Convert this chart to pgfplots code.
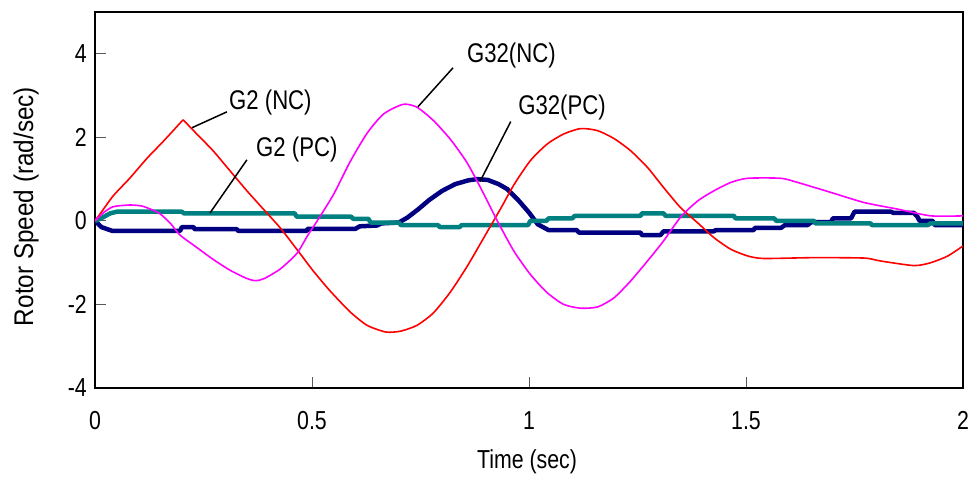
\documentclass[border=0pt]{standalone}
\usepackage{fontspec}
\setmainfont{Liberation Sans}
\newfontfamily\nf{Liberation Sans}[FakeStretch=0.82]
\newfontfamily\yf{Liberation Sans}[FakeStretch=0.9]
\usepackage{pgfplots}
\usepackage{pgfplotstable}
\pgfplotsset{compat=1.18}

\definecolor{gtwonc}{RGB}{255,0,0}
\definecolor{gthirtytwonc}{RGB}{255,0,255}
\definecolor{gthirtytwopc}{RGB}{0,0,128}
\definecolor{gtwopc}{RGB}{0,128,128}

% G2, no control: rise up to the peak at t = 0.203
\pgfplotstableread{
t v
0 0
0.012 0.17
0.042 0.6
0.08 1.02
0.12 1.5
0.157 1.9
0.203 2.42
}\gtwoncA

% G2, no control: from the peak on
\pgfplotstableread{
t v
0.203 2.42
0.242 2.0
0.272 1.68
0.311 1.2
0.35 0.72
0.388 0.28
0.427 -0.17
0.465 -0.68
0.503 -1.2
0.542 -1.68
0.588 -2.18
0.627 -2.5
0.67 -2.66
0.704 -2.64
0.742 -2.5
0.78 -2.2
0.819 -1.7
0.858 -1.08
0.896 -0.4
0.935 0.3
0.965 0.86
1.003 1.44
1.042 1.84
1.08 2.08
1.119 2.21
1.158 2.16
1.196 1.97
1.234 1.68
1.273 1.28
1.31 0.8
1.349 0.32
1.389 -0.05
1.426 -0.4
1.465 -0.68
1.504 -0.84
1.541 -0.9
1.656 -0.88
1.772 -0.89
1.81 -0.96
1.887 -1.07
1.926 -1.0
1.965 -0.84
2.0 -0.6
}\gtwonc

% G32, no control
\pgfplotstableread{
t v
0 0
0.02 0.2
0.042 0.34
0.08 0.38
0.11 0.35
0.147 0.19
0.173 -0.05
0.196 -0.34
0.235 -0.64
0.272 -0.92
0.311 -1.18
0.35 -1.38
0.37 -1.43
0.39 -1.38
0.427 -1.15
0.465 -0.78
0.49 -0.35
0.512 0
0.55 0.64
0.588 1.42
0.627 2.1
0.665 2.56
0.71 2.79
0.742 2.72
0.78 2.4
0.819 1.95
0.858 1.38
0.896 0.64
0.927 0
0.965 -0.72
1.003 -1.28
1.042 -1.72
1.08 -2.0
1.119 -2.09
1.158 -2.06
1.196 -1.84
1.234 -1.44
1.273 -0.96
1.31 -0.48
1.35 0.1
1.389 0.48
1.426 0.72
1.465 0.92
1.504 1.02
1.58 1.02
1.619 0.92
1.696 0.68
1.772 0.44
1.85 0.28
1.926 0.12
2.0 0.12
}\gthirtytwonc

% G32, proposed control
\pgfplotstableread{
t v
0 0
0.015 -0.15
0.04 -0.24
0.196 -0.24
0.2 -0.15
0.227 -0.15
0.23 -0.2
0.327 -0.2
0.33 -0.24
0.488 -0.24
0.49 -0.19
0.6 -0.19
0.61 -0.13
0.65 -0.11
0.66 -0.06
0.70 -0.04
0.72 0.08
0.745 0.28
0.77 0.5
0.80 0.72
0.83 0.88
0.86 0.97
0.88 1.0
0.905 0.98
0.93 0.88
0.95 0.76
0.975 0.5
1.0 0.2
1.02 -0.08
1.045 -0.22
1.11 -0.22
1.115 -0.28
1.257 -0.28
1.26 -0.34
1.303 -0.34
1.31 -0.25
1.426 -0.25
1.43 -0.22
1.518 -0.22
1.52 -0.17
1.58 -0.17
1.59 -0.1
1.642 -0.1
1.65 -0.03
1.696 -0.03
1.70 0.06
1.742 0.06
1.75 0.22
1.834 0.22
1.84 0.19
1.887 0.19
1.895 0.1
1.9 0.0
1.93 0.0
1.935 -0.1
2.0 -0.1
}\gthirtytwopc

% G2, proposed control
\pgfplotstableread{
t v
0 0
0.012 0.05
0.035 0.18
0.05 0.22
0.2 0.22
0.205 0.18
0.46 0.18
0.465 0.1
0.59 0.1
0.595 0.05
0.63 0.05
0.635 -0.04
0.70 -0.04
0.705 -0.1
0.79 -0.1
0.795 -0.15
0.84 -0.15
0.845 -0.1
0.998 -0.1
1.003 0
1.04 0
1.045 0.06
1.10 0.06
1.105 0.12
1.257 0.12
1.26 0.18
1.31 0.18
1.315 0.12
1.472 0.12
1.476 0.06
1.565 0.06
1.57 0
1.657 0
1.66 -0.06
1.787 -0.06
1.79 -0.1
1.919 -0.1
1.925 -0.06
2.0 -0.06
}\gtwopc

\begin{document}
\begin{tikzpicture}
\begin{axis}[
  name=ax, at={(0,0)}, anchor=south west,
  scale only axis, width=868pt, height=376pt,
  xmin=0, xmax=2, ymin=-4, ymax=5,
  axis line style={line width=1.5pt},
  xtick={0,0.5,1,1.5,2}, xticklabels={0,0.5,1,1.5,2},
  ytick={-4,-2,0,2,4}, yticklabels={-4,-2,0,2,4},
  tick align=inside, xtick pos=bottom, ytick pos=left,
  major tick length=11pt,
  tick style={line width=0.8pt, black!65},
  xticklabel style={anchor=base, yshift=-42pt, inner sep=0pt,
    font=\nf\fontsize{26}{30}\selectfont},
  yticklabel style={anchor=east, xshift=-8pt, inner sep=0pt,
    font=\nf\fontsize{26}{30}\selectfont},
  xlabel={Time (sec)},
  xlabel style={at={(rel axis cs:0.4977,-0.2128)}, anchor=base, inner sep=0pt,
    font=\nf\fontsize{26}{30}\selectfont},
  ylabel={Rotor Speed (rad/sec)},
  ylabel style={at={(rel axis cs:-0.0714,0.4827)}, anchor=base, inner sep=0pt,
    font=\yf\fontsize{27}{32}\selectfont},
  every axis plot/.append style={line join=round, no markers},
]
\addplot[gthirtytwopc, line width=4.5pt] table[x=t,y=v] {\gthirtytwopc};
\addplot[gtwopc, line width=4.5pt] table[x=t,y=v] {\gtwopc};
\addplot[gtwonc, line width=1.6pt, smooth, tension=0.4] table[x=t,y=v] {\gtwoncA};
\addplot[gtwonc, line width=1.6pt, smooth, tension=0.4] table[x=t,y=v] {\gtwonc};
\addplot[gthirtytwonc, line width=1.6pt, smooth, tension=0.4] table[x=t,y=v] {\gthirtytwonc};

% curve labels with leader lines
\draw[line width=1.5pt] (axis cs:0.2235,2.23) -- (axis cs:0.304,2.61);
\node[anchor=base west, inner sep=0pt, font=\nf\fontsize{27}{32}\selectfont]
  at (axis cs:0.3088,2.659) {G2 (NC)};
\draw[line width=1.5pt] (axis cs:0.265,0.19) -- (axis cs:0.350,1.461);
\node[anchor=base west, inner sep=0pt, font=\nf\fontsize{27}{32}\selectfont]
  at (axis cs:0.371,1.533) {G2 (PC)};
\draw[line width=1.5pt] (axis cs:0.744,2.73) -- (axis cs:0.825,3.665);
\node[anchor=base west, inner sep=0pt, font=\nf\fontsize{27}{32}\selectfont]
  at (axis cs:0.857,3.784) {G32(NC)};
\draw[line width=1.5pt] (axis cs:0.887,0.94) -- (axis cs:0.958,2.378);
\node[anchor=base west, inner sep=0pt, font=\nf\fontsize{27}{32}\selectfont]
  at (axis cs:0.975,2.539) {G32(PC)};
\end{axis}
\pgfresetboundingbox
\path ([shift={(-95pt,-90pt)}]ax.south west) rectangle ([shift={(11pt,12pt)}]ax.north east);
\end{tikzpicture}
\end{document}
